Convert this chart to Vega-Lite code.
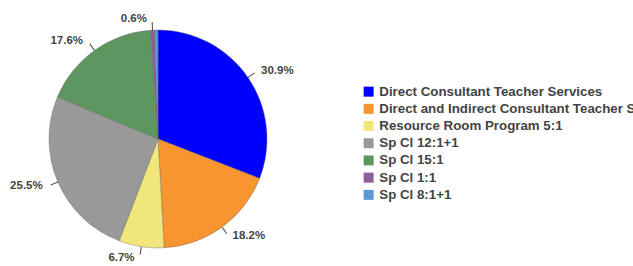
{
  "$schema": "https://vega.github.io/schema/vega-lite/v6.json",
  "width": 316,
  "height": 278,
  "padding": 0,
  "background": "white",
  "config": {"view": {"stroke": null}, "font": "Liberation Sans"},
  "data": {"values": [
    {"program": "Direct Consultant Teacher Services", "pct": 30.9, "order": 1, "side": "right"},
    {"program": "Direct and Indirect Consultant Teacher Services", "pct": 18.2, "order": 2, "side": "right"},
    {"program": "Resource Room Program 5:1", "pct": 6.7, "order": 3, "side": "left"},
    {"program": "Sp Cl 12:1+1", "pct": 25.5, "order": 4, "side": "left"},
    {"program": "Sp Cl 15:1", "pct": 17.6, "order": 5, "side": "left"},
    {"program": "Sp Cl 1:1", "pct": 0.6, "order": 6, "side": "left"},
    {"program": "Sp Cl 8:1+1", "pct": 0.5, "order": 7, "side": "none"}
  ]},
  "transform": [
    {"stack": "pct", "groupby": [], "sort": [{"field": "order", "order": "ascending"}], "as": ["s0", "s1"]},
    {"calculate": "(datum.s0 + datum.s1) / 2", "as": "mid"},
    {"calculate": "datum.mid - 0.07", "as": "t0"},
    {"calculate": "datum.mid + 0.07", "as": "t1"},
    {"calculate": "format(datum.pct, '.1f') + '%'", "as": "label"}
  ],
  "layer": [
    {
      "mark": {"type": "arc", "outerRadius": 109, "stroke": "#666666", "strokeWidth": 0.4},
      "encoding": {
        "theta": {"field": "s0", "type": "quantitative", "scale": {"domain": [0, 100]}},
        "theta2": {"field": "s1"},
        "color": {
          "field": "program", "type": "nominal",
          "sort": ["Direct Consultant Teacher Services", "Direct and Indirect Consultant Teacher Services", "Resource Room Program 5:1", "Sp Cl 12:1+1", "Sp Cl 15:1", "Sp Cl 1:1", "Sp Cl 8:1+1"],
          "scale": {
            "domain": ["Direct Consultant Teacher Services", "Direct and Indirect Consultant Teacher Services", "Resource Room Program 5:1", "Sp Cl 12:1+1", "Sp Cl 15:1", "Sp Cl 1:1", "Sp Cl 8:1+1"],
            "range": ["#0000FF", "#F7952F", "#F0E67C", "#999999", "#5E9660", "#8E5E9A", "#5B9BD5"]
          },
          "legend": {
            "title": null,
            "orient": "none",
            "legendX": 362,
            "legendY": 85,
            "symbolType": "square",
            "symbolSize": 100,
            "symbolStrokeWidth": 0,
            "labelFont": "Liberation Sans",
            "labelFontSize": 13.3,
            "labelFontWeight": "bold",
            "labelColor": "#444444",
            "labelLimit": 0,
            "rowPadding": 3.2,
            "labelOffset": 4
          }
        }
      }
    },
    {
      "transform": [{"filter": "datum.side != 'none'"}],
      "mark": {"type": "arc", "innerRadius": 109, "outerRadius": 117, "fill": "#444444"},
      "encoding": {
        "theta": {"field": "t0", "type": "quantitative", "scale": {"domain": [0, 100]}},
        "theta2": {"field": "t1"}
      }
    },
    {
      "transform": [{"filter": "datum.side == 'right'"}],
      "mark": {"type": "text", "radius": 120, "align": "left", "dx": 4, "font": "Liberation Sans", "fontSize": 11.5, "fontWeight": "bold", "fill": "#444444"},
      "encoding": {
        "theta": {"field": "mid", "type": "quantitative", "scale": {"domain": [0, 100]}},
        "text": {"field": "label", "type": "nominal"}
      }
    },
    {
      "transform": [{"filter": "datum.side == 'left'"}],
      "mark": {"type": "text", "radius": 120, "align": "right", "dx": -5, "font": "Liberation Sans", "fontSize": 11.5, "fontWeight": "bold", "fill": "#444444"},
      "encoding": {
        "theta": {"field": "mid", "type": "quantitative", "scale": {"domain": [0, 100]}},
        "text": {"field": "label", "type": "nominal"}
      }
    }
  ]
}
